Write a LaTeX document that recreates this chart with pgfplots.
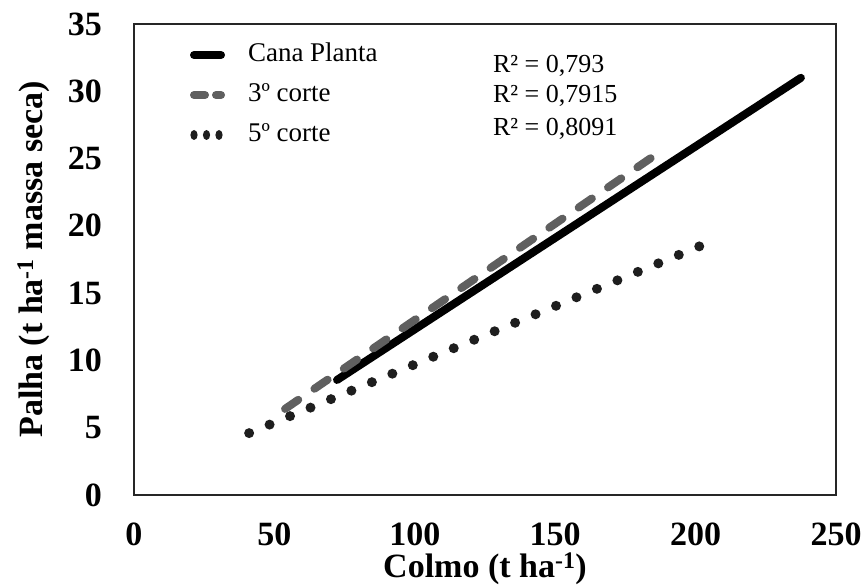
\documentclass[border=0pt]{standalone}
\usepackage{pgfplots}
\pgfplotsset{compat=1.18}
\usepackage{fontspec}
\setmainfont{Liberation Serif}
\definecolor{dgray}{RGB}{95,95,95}
\definecolor{dotc}{RGB}{30,30,30}
\begin{document}
\begin{tikzpicture}
\useasboundingbox (-134pt,-91pt) rectangle (730pt,495pt);
\begin{axis}[
 at={(0,0)}, anchor=south west,
 scale only axis, width=702pt, height=471pt,
 xmin=0, xmax=250, ymin=0, ymax=35,
 xtick={0,50,...,250}, ytick={0,5,...,35},
 major tick length=0pt,
 axis line style={line width=1.5pt, black!85},
 /pgf/number format/assume math mode=true,
 ticklabel style={font=\fontsize{34}{34}\selectfont\bfseries, inner sep=0pt},
 xticklabel style={anchor=base, yshift=-50pt},
 yticklabel style={anchor=east, xshift=-32pt},
 xlabel={Colmo (t ha\textsuperscript{-1})},
 ylabel={Palha (t ha\textsuperscript{-1} massa seca)},
 label style={font=\fontsize{34}{34}\selectfont\bfseries, inner sep=0pt},
 xlabel style={at={(axis description cs:0.5,-0.1762)}, anchor=base},
 ylabel style={at={(axis description cs:-0.131,0.5)}, anchor=base},
 legend cell align=left,
 legend style={draw=none, fill=none, at={(axis description cs:0.0798,0.9618)}, anchor=north west,
   inner sep=0pt, outer sep=0pt, row sep=14pt, column sep=0pt,
   font=\fontsize{27}{27}\selectfont,
   nodes={inner sep=0pt, text height=20pt, text depth=6pt}},
]
\addplot[black, line width=8pt, line cap=round,
  legend image code/.code={\draw[solid, line width=8pt, line cap=round, black] (4pt,0pt) -- (31pt,0pt); \path[draw=none, fill=none] (0pt,0pt) -- (58pt,0pt);}]
  coordinates {(72.3,8.55) (237.5,31.0)};
\addlegendentry{Cana Planta}
\addplot[dgray, line width=8pt, line cap=round, dash pattern=on 16pt off 19.6pt,
  legend image code/.code={\draw[solid, line width=8pt, line cap=round, dgray] (4pt,0pt) -- (15pt,0pt); \draw[solid, line width=8pt, line cap=round, dgray] (26pt,0pt) -- (31pt,0pt); \path[draw=none, fill=none] (0pt,0pt) -- (58pt,0pt);}]
  coordinates {(53.8,6.4) (184.5,25.1)};
\addlegendentry{3º corte}
\addplot[dotc, line width=10pt, line cap=round, dash pattern=on 0pt off 22.15pt,
  legend image code/.code={\fill[dotc, draw=none] (4pt,0pt) ellipse (3.6pt and 5pt); \fill[dotc, draw=none] (16.5pt,0pt) ellipse (3.6pt and 5pt); \fill[dotc, draw=none] (29pt,0pt) ellipse (3.6pt and 5pt); \path[draw=none, fill=none] (0pt,0pt) -- (58pt,0pt);}]
  coordinates {(41.0,4.6) (201.6,18.5)};
\addlegendentry{5º corte}
\node[anchor=base west, inner sep=0pt, font=\fontsize{26}{26}\selectfont] at (axis cs:127.8,31.43) {R² = 0,793};
\node[anchor=base west, inner sep=0pt, font=\fontsize{26}{26}\selectfont] at (axis cs:127.8,29.2) {R² = 0,7915};
\node[anchor=base west, inner sep=0pt, font=\fontsize{26}{26}\selectfont] at (axis cs:127.8,26.75) {R² = 0,8091};
\end{axis}
\end{tikzpicture}
\end{document}
